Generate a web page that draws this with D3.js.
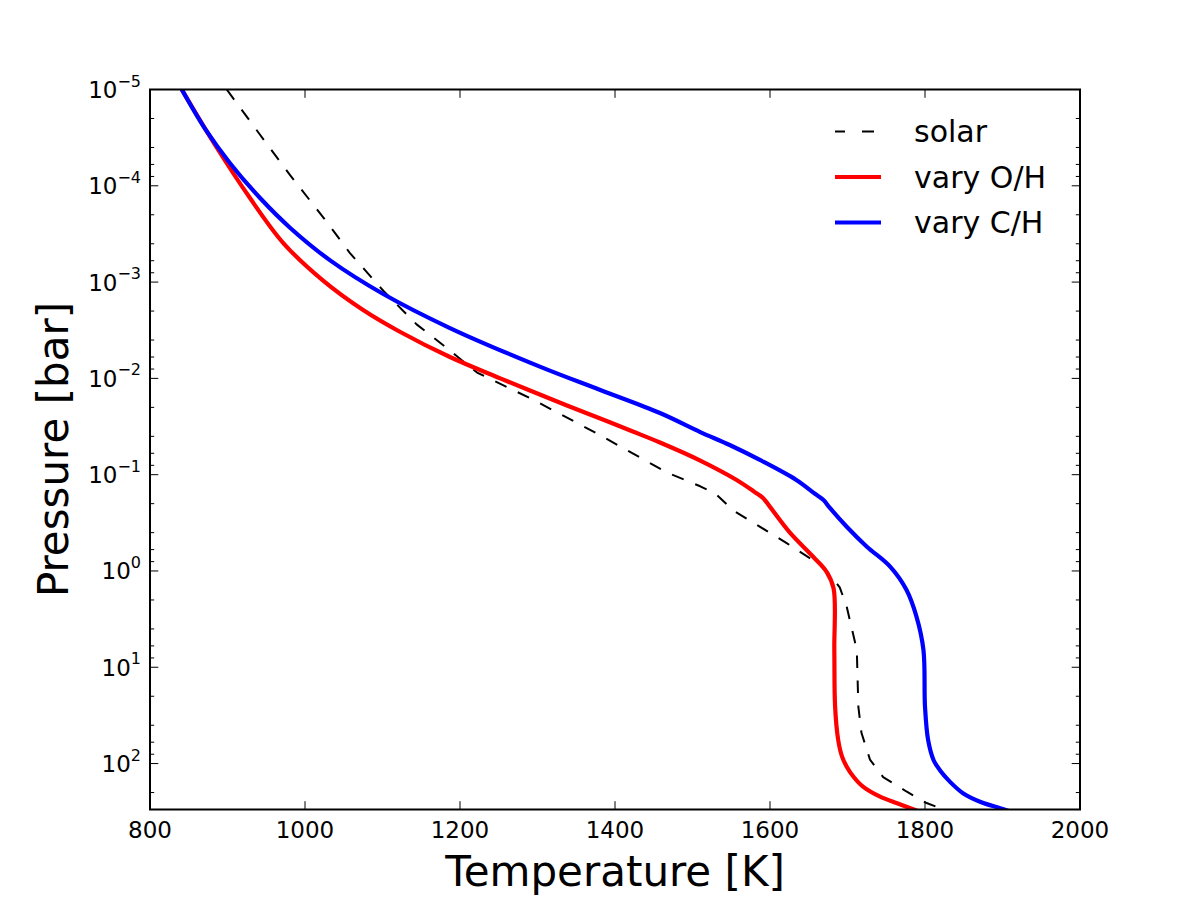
<!DOCTYPE html>
<html>
<head>
<meta charset="utf-8">
<script src="https://cdn.jsdelivr.net/npm/d3@7"></script>
<style>
    body { margin: 0; background: #fff; }
    svg { font-family: "DejaVu Sans", sans-serif; }
</style>
</head>
<body>
<div id="chart"></div>
<script>
// Temperature [K] / pressure [bar] profiles
const solarT = [899, 942, 981, 1024, 1058, 1101, 1144, 1178, 1222, 1294, 1381, 1467, 1510, 1530, 1552, 1621, 1669, 1690, 1699, 1705, 1712, 1714, 1718, 1729, 1746, 1776, 1802, 1825];
const solarP = [1e-5, 2.95e-5, 7.8e-5, 2.15e-4, 5.0e-4, 1.23e-3, 2.75e-3, 4.5e-3, 8.7e-3, 1.66e-2, 3.9e-2, 9.5e-2, 0.132, 0.158, 0.234, 0.51, 0.91, 1.48, 2.35, 3.79, 6.6, 25.7, 47.9, 91, 138, 195, 257, 302];

const varyOT = [841, 884, 929, 972, 1023, 1075, 1123, 1187, 1252, 1338, 1381, 1423, 1458, 1510, 1557, 1581, 1591, 1600, 1626, 1656, 1673, 1682, 1683, 1684, 1688, 1693, 1699, 1708, 1720, 1742, 1764, 1781, 1793];
const varyOP = [1e-5, 3.77e-5, 1.34e-4, 3.93e-4, 9.6e-4, 1.95e-3, 3.30e-3, 6.0e-3, 1.0e-2, 1.91e-2, 2.61e-2, 3.56e-2, 4.63e-2, 7.13e-2, 0.1135, 0.153, 0.1746, 0.216, 0.403, 0.716, 1.02, 1.51, 6.6, 25.6, 56.9, 84.8, 107.7, 138, 174, 221, 258, 291, 316];

const varyCT = [841, 872, 903, 942, 981, 1032, 1101, 1187, 1303, 1381, 1458, 1510, 1548, 1587, 1634, 1658, 1669, 1677, 1699, 1725, 1755, 1776, 1789, 1798, 1800, 1804, 1811, 1819, 1832, 1849, 1871, 1897, 1910];
const varyCP = [1e-5, 2.63e-5, 5.79e-5, 1.34e-4, 2.74e-4, 5.91e-4, 1.33e-3, 3.0e-3, 7.55e-3, 1.32e-2, 2.29e-2, 3.61e-2, 4.92e-2, 7.03e-2, 0.1135, 0.158, 0.183, 0.22, 0.347, 0.56, 0.902, 1.57, 2.98, 6.61, 25.6, 56.9, 91.8, 116.5, 154, 203, 249, 291, 314];

const xTicks = [800, 1000, 1200, 1400, 1600, 1800, 2000];
const yExponents = [-5, -4, -3, -2, -1, 0, 1, 2];
const minorSubs = [2, 4, 6, 8];
const legendLabels = ['solar', 'vary O/H', 'vary C/H'];

const W = 1200, H = 900;
const margin = {top: 89.5, right: 120, bottom: 90.5, left: 150};
const width = W - margin.left - margin.right;
const height = H - margin.top - margin.bottom;

const svg = d3.select('#chart').append('svg')
    .attr('width', W)
    .attr('height', H);

svg.append('rect').attr('width', W).attr('height', H).attr('fill', '#fff');

const g = svg.append('g')
    .attr('transform', `translate(${margin.left},${margin.top})`);

const x = d3.scaleLinear().domain([800, 2000]).range([0, width]);
const y = d3.scaleLog().domain([1e-5, 300]).range([0, height]);

g.append('clipPath').attr('id', 'clip')
    .append('rect').attr('width', width).attr('height', height);

const straight = d3.line()
    .x(d => x(d[0]))
    .y(d => y(d[1]));

const smooth = d3.line()
    .curve(d3.curveCatmullRom.alpha(0.5))
    .x(d => x(d[0]))
    .y(d => y(d[1]));

const series = [
    {T: solarT, P: solarP, color: '#000', w: 2, dash: '12.5,12.5', gen: straight},
    {T: varyOT, P: varyOP, color: '#ff0000', w: 4.2, dash: null, gen: smooth},
    {T: varyCT, P: varyCP, color: '#0000ff', w: 4.2, dash: null, gen: smooth}
];

const plot = g.append('g').attr('clip-path', 'url(#clip)');
series.forEach(s => {
    plot.append('path')
        .datum(s.T.map((t, i) => [t, s.P[i]]))
        .attr('d', s.gen)
        .attr('fill', 'none')
        .attr('stroke', s.color)
        .attr('stroke-width', s.w)
        .attr('stroke-linejoin', 'round')
        .attr('stroke-dasharray', s.dash);
});

// Ticks point inwards on all four sides
const tickColor = '#000';
xTicks.forEach(t => {
    [[height, -8.3], [0, 8.3]].forEach(([y0, len]) => {
        g.append('line')
            .attr('x1', x(t)).attr('x2', x(t))
            .attr('y1', y0).attr('y2', y0 + len)
            .attr('stroke', tickColor).attr('stroke-width', 1);
    });
    g.append('text')
        .attr('x', x(t))
        .attr('y', height + 28)
        .attr('text-anchor', 'middle')
        .style('font-size', '23px')
        .text(t);
});

yExponents.forEach(e => {
    const v = Math.pow(10, e);
    [[0, 8.3], [width, -8.3]].forEach(([x0, len]) => {
        g.append('line')
            .attr('x1', x0).attr('x2', x0 + len)
            .attr('y1', y(v)).attr('y2', y(v))
            .attr('stroke', tickColor).attr('stroke-width', 1);
    });
    minorSubs.forEach(m => {
        const mv = m * v;
        if (mv > 300) return;
        [[0, 4.2], [width, -4.2]].forEach(([x0, len]) => {
            g.append('line')
                .attr('x1', x0).attr('x2', x0 + len)
                .attr('y1', y(mv)).attr('y2', y(mv))
                .attr('stroke', tickColor).attr('stroke-width', 1);
        });
    });
    const label = g.append('text')
        .attr('x', -9)
        .attr('y', y(v) + 8.5)
        .attr('text-anchor', 'end')
        .style('font-size', '23px');
    label.append('tspan').text('10');
    label.append('tspan')
        .attr('dy', -11.5)
        .style('font-size', '16px')
        .text(e < 0 ? '\u2212' + (-e) : e);
});

// Frame
g.append('rect')
    .attr('width', width)
    .attr('height', height)
    .attr('fill', 'none')
    .attr('stroke', '#000')
    .attr('stroke-width', 2);

// Axis labels
g.append('text')
    .attr('x', width / 2)
    .attr('y', height + 76)
    .attr('text-anchor', 'middle')
    .style('font-size', '42px')
    .text('Temperature [K]');

g.append('text')
    .attr('transform', `translate(${68 - margin.left},${height / 2}) rotate(-90)`)
    .attr('text-anchor', 'middle')
    .style('font-size', '42px')
    .text('Pressure [bar]');

// Legend, no frame
const legend = g.append('g')
    .attr('transform', `translate(${835 - margin.left},${131.5 - margin.top})`);

series.forEach((s, i) => {
    legend.append('line')
        .attr('x1', 0).attr('x2', 46)
        .attr('y1', i * 45.5).attr('y2', i * 45.5)
        .attr('stroke', s.color)
        .attr('stroke-width', s.w)
        .attr('stroke-dasharray', s.dash ? '10,17,12' : null);
    legend.append('text')
        .attr('x', 79)
        .attr('y', i * 45.5 + 10.5)
        .style('font-size', '30px')
        .text(legendLabels[i]);
});
</script>
</body>
</html>
